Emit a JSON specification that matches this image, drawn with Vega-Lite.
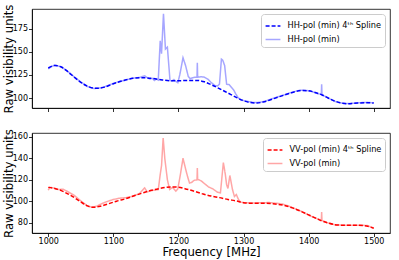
{
 "$schema": "https://vega.github.io/schema/vega-lite/v6.json",
 "padding": {"left": 2, "top": 3, "right": 5, "bottom": 1},
 "datasets": {
  "hhSpline": [
   {"f":1000,"v":132.5},{"f":1010,"v":135.2},{"f":1020,"v":133.5},{"f":1030,"v":128.5},{"f":1040,"v":122.5},{"f":1050,"v":117},{"f":1060,"v":112.8},{"f":1073,"v":110.5},{"f":1085,"v":111.5},{"f":1100,"v":115.5},{"f":1115,"v":118.8},{"f":1130,"v":121.3},{"f":1145,"v":122},{"f":1160,"v":121.2},{"f":1175,"v":119.5},{"f":1190,"v":118.6},{"f":1210,"v":118.9},{"f":1228,"v":119},{"f":1240,"v":117.5},{"f":1250,"v":114.5},{"f":1262,"v":110.5},{"f":1275,"v":105.8},{"f":1288,"v":101},{"f":1300,"v":97.1},{"f":1310,"v":95.2},{"f":1320,"v":94.6},{"f":1330,"v":95.6},{"f":1345,"v":99},{"f":1360,"v":102.6},{"f":1375,"v":106},{"f":1389,"v":108.2},{"f":1400,"v":107.8},{"f":1410,"v":106},{"f":1420,"v":103.5},{"f":1430,"v":100},{"f":1440,"v":96.8},{"f":1450,"v":94.6},{"f":1461,"v":93.8},{"f":1475,"v":94.5},{"f":1490,"v":95},{"f":1500,"v":94.6}
  ],
  "hhRaw": [
   {"f":1000,"v":131.5},{"f":1005,"v":134},{"f":1010,"v":135.5},{"f":1020,"v":133.8},{"f":1030,"v":128.8},{"f":1040,"v":122.8},{"f":1050,"v":117.3},{"f":1060,"v":112.5},{"f":1070,"v":110.3},{"f":1080,"v":110.8},{"f":1090,"v":113},{"f":1100,"v":115.8},{"f":1110,"v":117.8},{"f":1120,"v":119.8},{"f":1130,"v":121.5},{"f":1140,"v":122.2},{"f":1148,"v":124},{"f":1152,"v":122},{"f":1156,"v":120.5},{"f":1160,"v":121.3},{"f":1163,"v":119},{"f":1166,"v":120.5},{"f":1169,"v":119.5},{"f":1172,"v":162},{"f":1174,"v":148},{"f":1177,"v":191},{"f":1180,"v":153},{"f":1183,"v":155},{"f":1187,"v":119},{"f":1190,"v":118.5},{"f":1193,"v":120},{"f":1196,"v":118},{"f":1199,"v":116.5},{"f":1202,"v":125},{"f":1207,"v":143.5},{"f":1211,"v":135},{"f":1215,"v":123.5},{"f":1218,"v":121},{"f":1222,"v":122},{"f":1226,"v":122.5},{"f":1228.5,"v":122.5},{"f":1229,"v":138},{"f":1229.5,"v":122.5},{"f":1235,"v":123},{"f":1240,"v":122.5},{"f":1245,"v":120.5},{"f":1250,"v":117},{"f":1256,"v":113.5},{"f":1260,"v":113},{"f":1263,"v":115},{"f":1266,"v":142},{"f":1268,"v":141},{"f":1271,"v":135},{"f":1274,"v":115},{"f":1278,"v":114.5},{"f":1282,"v":111},{"f":1285,"v":108.5},{"f":1288,"v":104.5},{"f":1292,"v":100},{"f":1297,"v":97.8},{"f":1305,"v":96.5},{"f":1315,"v":95.2},{"f":1325,"v":95.3},{"f":1335,"v":97},{"f":1345,"v":99.5},{"f":1355,"v":101.8},{"f":1365,"v":104},{"f":1375,"v":106.4},{"f":1385,"v":108.2},{"f":1395,"v":108.4},{"f":1405,"v":107},{"f":1415,"v":104.5},{"f":1419.5,"v":104},{"f":1420,"v":114.8},{"f":1420.5,"v":103.7},{"f":1430,"v":100},{"f":1440,"v":96.5},{"f":1450,"v":94.6},{"f":1460,"v":94},{"f":1470,"v":94.4},{"f":1480,"v":95},{"f":1490,"v":95.3},{"f":1500,"v":94.8}
  ],
  "vvSpline": [
   {"f":1000,"v":113},{"f":1010,"v":112},{"f":1020,"v":110},{"f":1030,"v":107},{"f":1040,"v":103.5},{"f":1050,"v":99.5},{"f":1060,"v":95.9},{"f":1068,"v":94.5},{"f":1080,"v":95.5},{"f":1093,"v":97.9},{"f":1105,"v":100.2},{"f":1119,"v":102.5},{"f":1132,"v":105.2},{"f":1145,"v":107.8},{"f":1159,"v":110.3},{"f":1170,"v":111.8},{"f":1181,"v":113},{"f":1190,"v":113.4},{"f":1200,"v":113.2},{"f":1210,"v":111.8},{"f":1222,"v":109.8},{"f":1238,"v":106.8},{"f":1250,"v":105},{"f":1263,"v":103.5},{"f":1276,"v":101.8},{"f":1289,"v":100.4},{"f":1300,"v":98.8},{"f":1315,"v":98.2},{"f":1330,"v":98.3},{"f":1345,"v":97.8},{"f":1360,"v":96.6},{"f":1375,"v":94},{"f":1387,"v":91.1},{"f":1400,"v":87.5},{"f":1410,"v":84.7},{"f":1420,"v":82},{"f":1430,"v":80},{"f":1443,"v":78.2},{"f":1460,"v":77.8},{"f":1474,"v":77.9},{"f":1489,"v":77.2},{"f":1500,"v":75.1}
  ],
  "vvRaw": [
   {"f":1000,"v":110.3},{"f":1002,"v":113},{"f":1008,"v":112.5},{"f":1015,"v":111},{"f":1023,"v":111.3},{"f":1030,"v":109},{"f":1040,"v":105.5},{"f":1050,"v":100.5},{"f":1060,"v":95.8},{"f":1068,"v":94.5},{"f":1075,"v":95.8},{"f":1082,"v":97.8},{"f":1090,"v":99.8},{"f":1100,"v":101.8},{"f":1110,"v":103},{"f":1120,"v":103.5},{"f":1130,"v":104.8},{"f":1140,"v":107.2},{"f":1148,"v":112.5},{"f":1152,"v":108.8},{"f":1158,"v":110},{"f":1164,"v":110.5},{"f":1169,"v":111},{"f":1172,"v":125},{"f":1174,"v":133},{"f":1176.5,"v":158.8},{"f":1179,"v":140},{"f":1183,"v":120},{"f":1186.5,"v":111},{"f":1191,"v":113},{"f":1196,"v":109.5},{"f":1199,"v":111.5},{"f":1203,"v":125},{"f":1207,"v":140},{"f":1211,"v":130},{"f":1214,"v":123},{"f":1217,"v":117},{"f":1220,"v":117.5},{"f":1224,"v":119.5},{"f":1228.5,"v":120},{"f":1229,"v":131},{"f":1229.5,"v":120.5},{"f":1235,"v":119},{"f":1240,"v":116.5},{"f":1246,"v":113.5},{"f":1253,"v":111.5},{"f":1260,"v":108.5},{"f":1264.5,"v":108},{"f":1269,"v":136},{"f":1272,"v":125},{"f":1274,"v":115.5},{"f":1276,"v":112},{"f":1279,"v":124},{"f":1283,"v":111},{"f":1286,"v":104.5},{"f":1289,"v":106.3},{"f":1292,"v":102},{"f":1295,"v":99.5},{"f":1300,"v":98.8},{"f":1310,"v":98.6},{"f":1320,"v":98.6},{"f":1330,"v":98.8},{"f":1340,"v":98.9},{"f":1350,"v":98.3},{"f":1360,"v":97.5},{"f":1370,"v":95.5},{"f":1380,"v":93},{"f":1390,"v":90.5},{"f":1400,"v":87.3},{"f":1410,"v":84.6},{"f":1419.5,"v":82.6},{"f":1420,"v":90.2},{"f":1420.5,"v":82.3},{"f":1430,"v":80},{"f":1440,"v":78.3},{"f":1450,"v":78},{"f":1460,"v":77.8},{"f":1470,"v":78},{"f":1480,"v":78},{"f":1490,"v":77.6},{"f":1500,"v":75.3}
  ]
 },
 "vconcat": [
  {
   "width": 358, "height": 99,
   "layer": [
    {
     "data": {"name": "hhRaw"},
     "mark": {"type": "line", "strokeWidth": 1.5},
     "encoding": {
      "x": {"field": "f", "type": "quantitative", "scale": {"domain": [975, 1525], "nice": false, "zero": false}, "axis": {"values": [1000,1100,1200,1300,1400,1500], "tickCount": 20, "labels": false, "title": null}},
      "y": {"field": "v", "type": "quantitative", "scale": {"domain": [89.2, 196.3], "nice": false, "zero": false}, "axis": {"values": [100,125,150,175], "tickCount": 20, "format": "d", "labelOverlap": false, "titlePadding": -2, "title": "Raw visibility units"}},
      "color": {"datum": "HH-pol (min)", "type": "nominal", "scale": {"domain": ["HH-pol (min) 4ᵗʰ Spline", "HH-pol (min)"], "range": ["#0000ff", "#a6a6ff"]}, "legend": {"title": null}},
      "strokeDash": {"datum": "HH-pol (min)", "type": "nominal", "scale": {"domain": ["HH-pol (min) 4ᵗʰ Spline", "HH-pol (min)"], "range": [[4, 2], [1, 0]]}, "legend": {"title": null}}
     }
    },
    {
     "data": {"name": "hhSpline"},
     "mark": {"type": "line", "strokeWidth": 1.5, "interpolate": "monotone"},
     "encoding": {
      "x": {"field": "f", "type": "quantitative"},
      "y": {"field": "v", "type": "quantitative"},
      "color": {"datum": "HH-pol (min) 4ᵗʰ Spline", "type": "nominal"},
      "strokeDash": {"datum": "HH-pol (min) 4ᵗʰ Spline", "type": "nominal"}
     }
    }
   ]
  },
  {
   "width": 358, "height": 100,
   "layer": [
    {
     "data": {"name": "vvRaw"},
     "mark": {"type": "line", "strokeWidth": 1.5},
     "encoding": {
      "x": {"field": "f", "type": "quantitative", "scale": {"domain": [975, 1525], "nice": false, "zero": false}, "axis": {"values": [1000,1100,1200,1300,1400,1500], "tickCount": 20, "format": "d", "labelOverlap": false, "title": "Frequency [MHz]"}},
      "y": {"field": "v", "type": "quantitative", "scale": {"domain": [70.7, 163.4], "nice": false, "zero": false}, "axis": {"values": [80,100,120,140,160], "tickCount": 20, "format": "d", "labelOverlap": false, "titlePadding": -2, "title": "Raw visibility units"}},
      "color": {"datum": "VV-pol (min)", "type": "nominal", "scale": {"domain": ["VV-pol (min) 4ᵗʰ Spline", "VV-pol (min)"], "range": ["#ff0000", "#ffa6a6"]}, "legend": {"title": null}},
      "strokeDash": {"datum": "VV-pol (min)", "type": "nominal", "scale": {"domain": ["VV-pol (min) 4ᵗʰ Spline", "VV-pol (min)"], "range": [[4, 2], [1, 0]]}, "legend": {"title": null}}
     }
    },
    {
     "data": {"name": "vvSpline"},
     "mark": {"type": "line", "strokeWidth": 1.5, "interpolate": "monotone"},
     "encoding": {
      "x": {"field": "f", "type": "quantitative"},
      "y": {"field": "v", "type": "quantitative"},
      "color": {"datum": "VV-pol (min) 4ᵗʰ Spline", "type": "nominal"},
      "strokeDash": {"datum": "VV-pol (min) 4ᵗʰ Spline", "type": "nominal"}
     }
    }
   ]
  }
 ],
 "spacing": 25,
 "bounds": "flush",
 "resolve": {"scale": {"color": "independent", "strokeDash": "independent", "y": "independent", "x": "independent"}},
 "config": {
  "font": "DejaVu Sans",
  "view": {"stroke": "black", "strokeWidth": 0.8},
  "axis": {"grid": false, "domainColor": "black", "domainWidth": 0.8, "tickColor": "black", "tickWidth": 0.8, "tickSize": 3.5, "labelFontSize": 8, "labelColor": "black", "labelPadding": 1, "labelOverlap": false, "labelFlush": false, "titleFontSize": 11.7, "titleFontWeight": "normal", "titleColor": "black", "titlePadding": 1, "labelFont": "DejaVu Sans", "titleFont": "DejaVu Sans"},
  "legend": {"orient": "top-right", "offset": 5, "padding": 3.5, "strokeColor": "#cccccc", "fillColor": "white", "cornerRadius": 3, "labelFontSize": 8.2, "labelFont": "DejaVu Sans", "labelColor": "black", "symbolType": "stroke", "symbolStrokeWidth": 1.5, "symbolSize": 220, "rowPadding": 1.5, "labelLimit": 300, "labelOffset": 6}
 }
}
